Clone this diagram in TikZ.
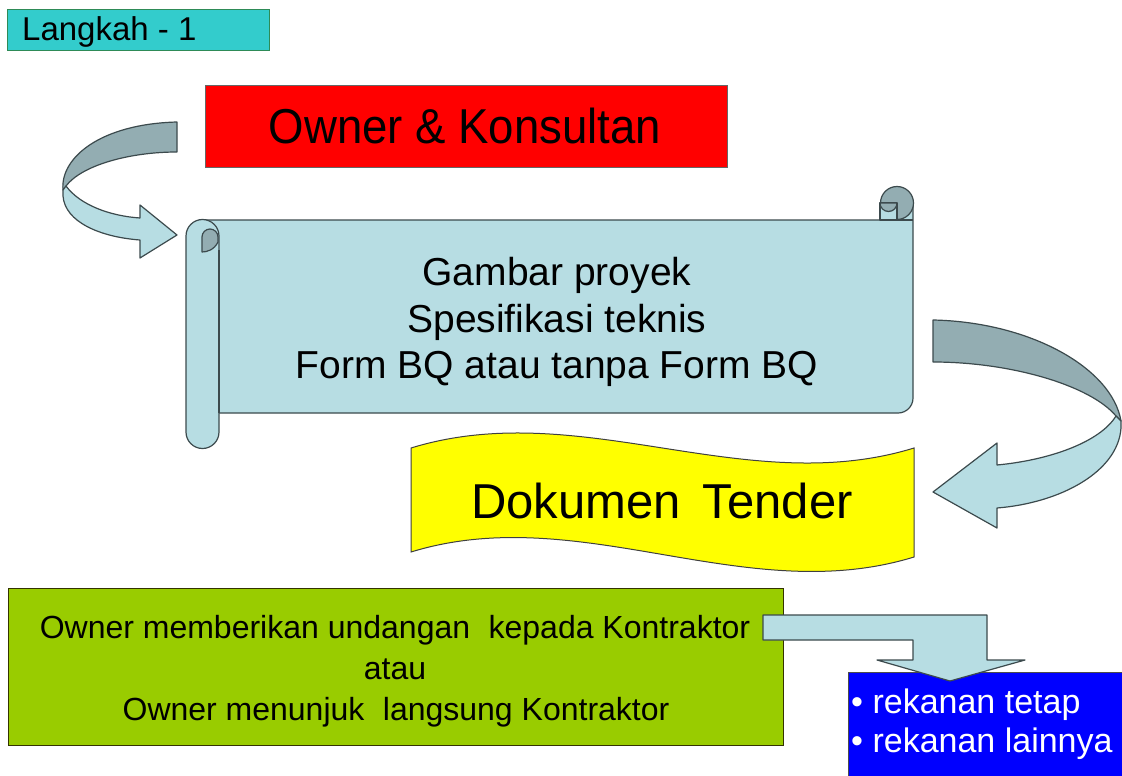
\documentclass[tikz,border=0pt]{standalone}
\usepackage{fontspec}
\usepackage{graphicx}
\setmainfont{Liberation Sans}
\newcommand{\myfs}[1]{\fontsize{#1}{#1}\selectfont}
\definecolor{scrollL}{HTML}{B7DDE3}
\definecolor{scrollD}{HTML}{93ADB2}
\definecolor{edge}{HTML}{3C4A4D}
\definecolor{langk}{HTML}{33CCCC}
\definecolor{langkE}{HTML}{2E8B57}
\definecolor{grn}{HTML}{99CC00}
\definecolor{grnE}{HTML}{333300}
\definecolor{blu}{HTML}{0000FF}
\definecolor{ylw}{HTML}{FFFF00}
\begin{document}
\begin{tikzpicture}[x=1pt,y=-1pt,
  lbl/.style={inner sep=0pt, anchor=base},
  ol/.style={draw=edge, line width=1.2pt, line join=round},
  boxn/.style={inner sep=0pt, anchor=north west},
]
\useasboundingbox (0,0) rectangle (1122,776);
\fill[white] (0,0) rectangle (1122,776);

% Langkah - 1
\node[boxn, draw=langkE, fill=langk, line width=1.2pt, minimum width=262pt, minimum height=41pt] (stepbox) at (7,9) {};
\node[lbl, anchor=base west] (steptext) at (22,41) {\myfs{33}Langkah - 1};

% Owner & Konsultan
\node[boxn, draw=black!60, fill=red, line width=1pt, minimum width=522pt, minimum height=82pt] (ownerbox) at (205,85) {};
\node[lbl] (ownertext) at (465,143) {\myfs{49}\scalebox{0.93}[1]{Owner \& Konsultan}};

% left curved arrow
\path[ol, fill=scrollD] (177,122) -- (177,152) .. controls (130,152) and (82,165) .. (66,186)
   -- (63,190) .. controls (60,158) and (100,124) .. (177,122) -- cycle;
\path[ol, fill=scrollL] (66,186) .. controls (80,205) and (110,216) .. (140,218)
   -- (140,205) -- (177,235) -- (140,258) -- (140,240)
   .. controls (100,237) and (65,222) .. (63,196) -- (63,190) -- cycle;

% scroll body
\path[ol, fill=scrollL] (202,220) -- (897,220) -- (897,203) -- (913,203) -- (913,398)
   arc[start angle=0, end angle=90, radius=15] -- (202,413) -- cycle;
% right roll
\path[ol, fill=scrollD] (897,203) circle[radius=16.5];
\path[ol, fill=scrollL] (880,203) -- (880,220) -- (897,220) -- (897,203) -- cycle;
\path[ol, fill=scrollD] (897,203) arc[start angle=0, end angle=180, radius=8.5] -- cycle;
\draw[edge, line width=1.2pt] (880,220) -- (913,220);
% left roll
\path[ol, fill=scrollL] (186,236) -- (186,432) arc[start angle=180, end angle=0, radius=16.5]
   -- (219,236) arc[start angle=0, end angle=-180, radius=16.5] -- cycle;
\path[ol, fill=scrollD] (202,252) -- (202,237) arc[start angle=180, end angle=360, radius=8]
   -- (218,242) .. controls (214,250) and (207,252) .. (202,252) -- cycle;
\draw[edge, line width=1.2pt] (219,413) -- (219,250);

\node[lbl] (scroll1) at (557,285) {\myfs{39}Gambar proyek};
\node[lbl] (scroll2) at (557,332) {\myfs{39}Spesifikasi teknis};
\node[lbl] (scroll3) at (557,378) {\myfs{39}Form BQ atau tanpa Form BQ};

% right curved arrow
\path[ol, fill=scrollD] (933,320) -- (933,362) .. controls (1010,362) and (1090,385) .. (1116,416)
   -- (1121,421) .. controls (1112,368) and (1030,322) .. (933,320) -- cycle;
\path[ol, fill=scrollL] (1116,416) .. controls (1100,442) and (1050,460) .. (997,465)
   -- (997,443) -- (933,492) -- (997,528) -- (997,508)
   .. controls (1060,503) and (1118,472) .. (1121,428) -- (1121,421) -- cycle;

% Dokumen Tender (wave)
\path[draw=black!75, line width=1pt, fill=ylw] (411,448) .. controls (580,396) and (745,500) .. (914,448)
   -- (914,557) .. controls (745,609) and (580,500) .. (411,552) -- cycle;
\node[lbl] (tender) at (662,518) {\myfs{49}Dokumen\hspace{0.45em}Tender};

% green box
\node[boxn, draw=grnE, fill=grn, line width=1.2pt, minimum width=775pt, minimum height=157pt] (greenbox) at (8,588) {};
\node[lbl] (green1) at (395,638) {\myfs{32}Owner memberikan undangan\hspace{0.3em} kepada Kontraktor};
\node[lbl] (green2) at (395,679) {\myfs{32}atau};
\node[lbl] (green3) at (396,720) {\myfs{32}Owner menunjuk\hspace{0.3em} langsung Kontraktor};

% blue box
\node[boxn, draw=black!70, fill=blu, line width=1pt, minimum width=280pt, minimum height=110pt] (bluebox) at (848,672) {};
\node[lbl, anchor=base west, text=white] (blue1) at (851,713) {\myfs{34}• rekanan tetap};
\node[lbl, anchor=base west, text=white] (blue2) at (851,752) {\myfs{34}• rekanan lainnya};

% bent arrow
\path[ol, fill=scrollL] (763,615) -- (987,615) -- (987,660) -- (1025,660) -- (950,681)
   -- (877,660) -- (913,660) -- (913,640) -- (763,640) -- cycle;
\end{tikzpicture}
\end{document}
